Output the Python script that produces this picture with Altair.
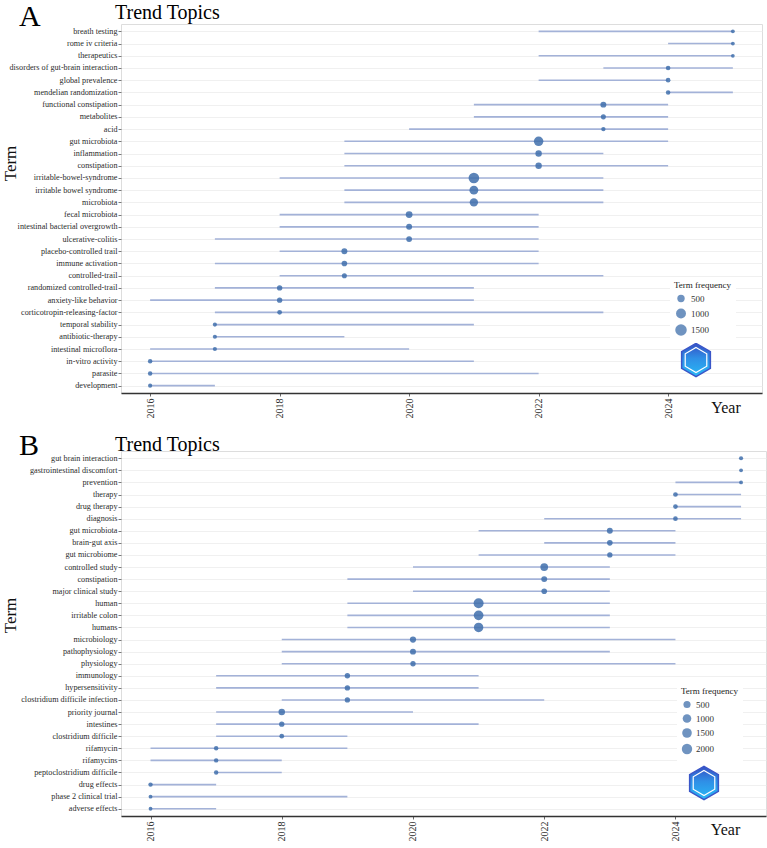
import altair as alt
import pandas as pd

# ---- Panel A: trend topics (web of science keywords) ----
terms_a = [
    "breath testing", "rome iv criteria", "therapeutics",
    "disorders of gut-brain interaction", "global prevalence",
    "mendelian randomization", "functional constipation", "metabolites",
    "acid", "gut microbiota", "inflammation", "constipation",
    "irritable-bowel-syndrome", "irritable bowel syndrome", "microbiota",
    "fecal microbiota", "intestinal bacterial overgrowth", "ulcerative-colitis",
    "placebo-controlled trail", "immune activation", "controlled-trail",
    "randomized controlled-trail", "anxiety-like behavior",
    "corticotropin-releasing-factor", "temporal stability",
    "antibiotic-therapy", "intestinal microflora", "in-vitro activity",
    "parasite", "development",
]
start_a = [2022, 2024, 2022, 2023, 2022, 2024, 2021, 2021, 2020, 2019,
           2019, 2019, 2018, 2019, 2019, 2018, 2018, 2017, 2018, 2017,
           2018, 2017, 2016, 2017, 2017, 2017, 2016, 2016, 2016, 2016]
median_a = [2025, 2025, 2025, 2024, 2024, 2024, 2023, 2023, 2023, 2022,
            2022, 2022, 2021, 2021, 2021, 2020, 2020, 2020, 2019, 2019,
            2019, 2018, 2018, 2018, 2017, 2017, 2017, 2016, 2016, 2016]
end_a = [2025, 2025, 2025, 2025, 2024, 2025, 2024, 2024, 2024, 2024,
         2023, 2024, 2023, 2023, 2023, 2022, 2022, 2022, 2022, 2022,
         2023, 2021, 2021, 2023, 2021, 2019, 2020, 2021, 2022, 2017]
freq_a = [200, 200, 195, 240, 245, 235, 340, 270, 225, 890,
          390, 390, 1200, 750, 660, 430, 340, 330, 340, 310,
          270, 290, 290, 250, 215, 215, 215, 230, 230, 215]

# ---- Panel B: trend topics (scopus keywords) ----
terms_b = [
    "gut brain interaction", "gastrointestinal discomfort", "prevention",
    "therapy", "drug therapy", "diagnosis", "gut microbiota",
    "brain-gut axis", "gut microbiome", "controlled study", "constipation",
    "major clinical study", "human", "irritable colon", "humans",
    "microbiology", "pathophysiology", "physiology", "immunology",
    "hypersensitivity", "clostridium difficile infection", "priority journal",
    "intestines", "clostridium difficile", "rifamycin", "rifamycins",
    "peptoclostridium difficile", "drug effects", "phase 2 clinical trial",
    "adverse effects",
]
start_b = [2025, 2025, 2024, 2024, 2024, 2022, 2021, 2022, 2021, 2020,
           2019, 2020, 2019, 2019, 2019, 2018, 2018, 2018, 2017, 2017,
           2018, 2017, 2017, 2017, 2016, 2016, 2017, 2016, 2016, 2016]
median_b = [2025, 2025, 2025, 2024, 2024, 2024, 2023, 2023, 2023, 2022,
            2022, 2022, 2021, 2021, 2021, 2020, 2020, 2020, 2019, 2019,
            2019, 2018, 2018, 2018, 2017, 2017, 2017, 2016, 2016, 2016]
end_b = [2025, 2025, 2025, 2025, 2025, 2025, 2024, 2024, 2024, 2023,
         2023, 2023, 2023, 2023, 2023, 2024, 2023, 2024, 2021, 2021,
         2022, 2020, 2021, 2019, 2019, 2018, 2018, 2017, 2019, 2017]
freq_b = [90, 70, 70, 130, 125, 125, 270, 225, 190, 680,
          275, 225, 1750, 1580, 1420, 315, 275, 190, 195, 190,
          185, 370, 190, 130, 107, 105, 105, 105, 72, 70]

year_ticks = [2016, 2018, 2020, 2022, 2024]
legend_values_a = [500, 1000, 1500]
legend_values_b = [500, 1000, 1500, 2000]

SERIF = "Liberation Serif"
POINT_COLOR = "#3f6fab"
LINE_COLOR = "#a3b2d8"

hexagon = "M0,-1L0.866,-0.5L0.866,0.5L0,1L-0.866,0.5L-0.866,-0.5Z"


def trend_panel(letter, terms, start, median, end, freq, width, height,
                x_domain, size_domain, size_range, legend_values,
                legend_xy, legend_row_pad, logo_xy, year_xy, term_y,
                title_dy, letter_y):
    df = pd.DataFrame({"term": terms, "start": start, "median": median,
                       "end": end, "freq": freq})
    one = pd.DataFrame({"k": [0]})

    x_scale = alt.Scale(domain=x_domain, nice=False, zero=False)
    y_enc = alt.Y(
        "term:N", sort=terms,
        scale=alt.Scale(type="point", padding=0.6),
        axis=alt.Axis(
            title="Term", titleFont=SERIF, titleFontSize=17,
            titleFontWeight="normal", titleColor="#111",
            titleX=-111, titleY=term_y, titleAngle=-90,
            titleAlign="center", titleBaseline="middle",
            labelFont=SERIF, labelFontSize=8.2, labelColor="#2b2b2b",
            labelPadding=1, tickSize=3, tickColor="#555", tickWidth=0.8,
            domain=False, grid=True, gridColor="#ececec", gridWidth=0.8,
        ),
    )
    x_axis = alt.Axis(
        values=year_ticks, format="d", labelAngle=-90,
        labelFont=SERIF, labelFontSize=10, labelColor="#2b2b2b",
        labelPadding=2, tickSize=3, tickColor="#444", tickWidth=0.8,
        domainColor="#333", domainWidth=1.3, grid=False,
        title="Year", titleFont=SERIF, titleFontSize=16,
        titleFontWeight="normal", titleColor="#111",
        titleX=year_xy[0], titleY=year_xy[1], titleAlign="center",
        titleBaseline="middle",
    )

    spans = alt.Chart(df).mark_rule(
        color=LINE_COLOR, strokeWidth=1.6
    ).encode(
        x=alt.X("start:Q", scale=x_scale, axis=x_axis),
        x2="end:Q",
        y=y_enc,
    )

    points = alt.Chart(df).mark_circle(
        color=POINT_COLOR, opacity=0.85
    ).encode(
        x=alt.X("median:Q", scale=x_scale, axis=x_axis),
        y=y_enc,
        size=alt.Size(
            "freq:Q",
            scale=alt.Scale(type="sqrt", domain=size_domain,
                            range=size_range, zero=False),
            legend=alt.Legend(
                title="Term frequency", values=legend_values, format="d",
                orient="none", legendX=legend_xy[0], legendY=legend_xy[1],
                fillColor="white", padding=4,
                titleFont=SERIF, titleFontSize=9, titleFontWeight="normal",
                titleColor="#222", titlePadding=4,
                labelFont=SERIF, labelFontSize=9, labelColor="#333",
                labelOffset=3, symbolOpacity=0.75,
                rowPadding=legend_row_pad,
            ),
        ),
    )

    panel_letter = alt.Chart(one).mark_text(
        text=letter, font=SERIF, fontSize=30, align="left",
        baseline="alphabetic", color="black",
    ).encode(x=alt.value(-102), y=alt.value(letter_y))

    logo_outer = alt.Chart(one).mark_point(
        shape=hexagon, filled=True, size=1100, opacity=1,
        stroke="#3a56c8", strokeWidth=1.5,
        fill=alt.Gradient(
            gradient="linear",
            stops=[alt.GradientStop(color="#3550c4", offset=0),
                   alt.GradientStop(color="#2f8fe6", offset=0.45),
                   alt.GradientStop(color="#28b8f5", offset=1)],
            x1=0, x2=0, y1=0, y2=1,
        ),
    ).encode(x=alt.value(logo_xy[0]), y=alt.value(logo_xy[1]))

    logo_inner = alt.Chart(one).mark_point(
        shape=hexagon, filled=False, size=620, opacity=1,
        stroke="white", strokeWidth=1.2,
    ).encode(x=alt.value(logo_xy[0]), y=alt.value(logo_xy[1]))

    return alt.layer(spans, points, panel_letter, logo_outer, logo_inner).properties(
        width=width, height=height,
        title=alt.TitleParams(
            "Trend Topics", anchor="start", frame="group", dx=-6,
            dy=title_dy, font=SERIF, fontSize=20, fontWeight="normal",
            color="black", offset=4,
        ),
    )


panel_a = trend_panel(
    "A", terms_a, start_a, median_a, end_a, freq_a,
    width=641, height=369, x_domain=[2015.55, 2025.45],
    size_domain=[150, 1600], size_range=[5.6, 138.8],
    legend_values=legend_values_a, legend_xy=[549, 253], legend_row_pad=-0.5,
    logo_xy=[575, 336], year_xy=[604.5, 14.5], term_y=139,
    title_dy=25, letter_y=1.6,
)
panel_b = trend_panel(
    "B", terms_b, start_b, median_b, end_b, freq_b,
    width=645, height=365, x_domain=[2015.55, 2025.38],
    size_domain=[40, 2000], size_range=[9.3, 107.5],
    legend_values=legend_values_b, legend_xy=[556, 232], legend_row_pad=-1,
    logo_xy=[583, 332], year_xy=[604, 13], term_y=164,
    title_dy=28.5, letter_y=3.8,
)

chart = alt.vconcat(panel_a, panel_b, spacing=11).resolve_scale(
    x="independent", y="independent", size="independent"
).properties(
    padding={"left": 0, "top": 1, "right": 0, "bottom": 0},
).configure_view(stroke=None).configure(font=SERIF)

chart.save("out.html", embed_options={"renderer": "svg", "actions": False})
